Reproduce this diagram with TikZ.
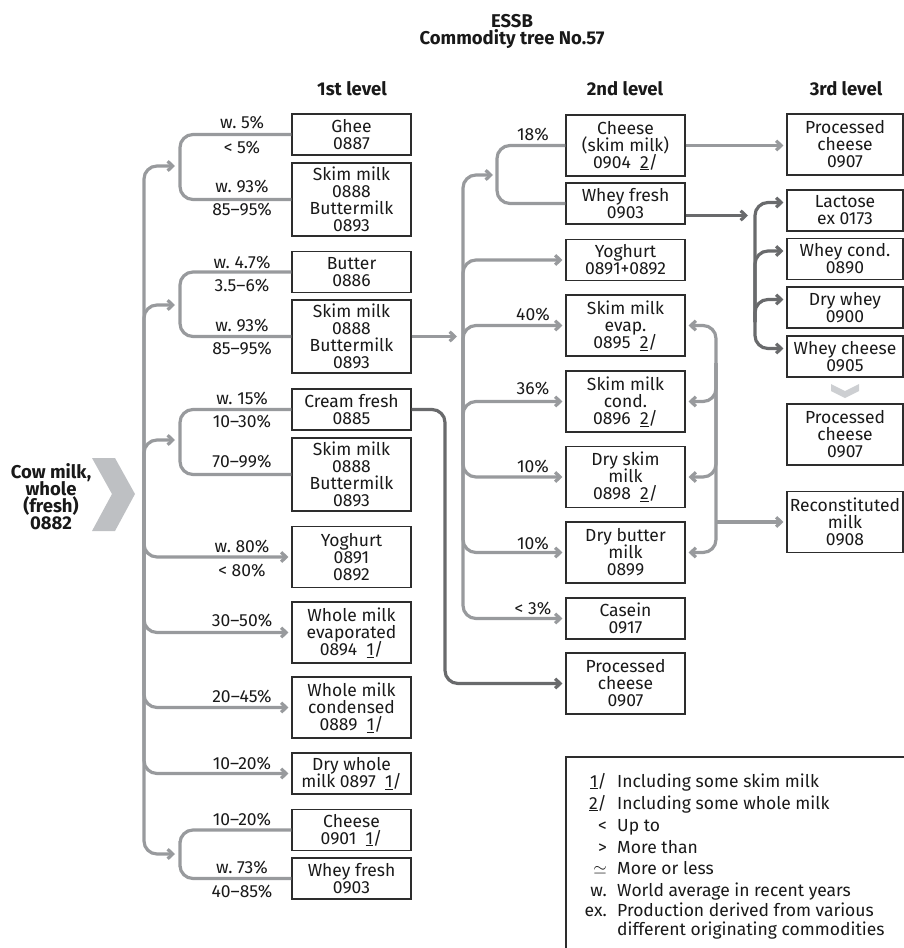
\documentclass[tikz,border=0pt]{standalone}
\usepackage{fontspec}
\setmainfont{Fira Sans}
\usetikzlibrary{arrows.meta}

\definecolor{lightline}{RGB}{152,154,157}
\definecolor{darkline}{RGB}{105,106,108}
\definecolor{boxline}{RGB}{45,45,45}
\definecolor{ink}{RGB}{25,25,25}
\definecolor{chev}{RGB}{190,192,195}
\definecolor{chevlight}{RGB}{205,207,210}

\newcommand\bodyfont{\fontsize{17.5}{17}\selectfont\lineskiplimit=-20pt}
\newcommand\boldfont{\bfseries\fontsize{18.5}{17}\selectfont\lineskiplimit=-20pt}

\tikzset{
  every node/.style={font=\bodyfont, text=ink},
  box/.style={draw=boxline, line width=1.1pt, align=center, inner sep=0pt, minimum width=119pt},
  boxr/.style={box, minimum width=116pt},
  ln2/.style={minimum height=41pt},
  ln3/.style={minimum height=61pt},
  ln4/.style={minimum height=73pt},
  pct/.style={inner sep=0pt, text height=12pt, text depth=0pt},
  head/.style={pct, font=\boldfont},
  flow/.style={draw=lightline, line width=3.2pt, rounded corners=13pt},
  dark/.style={flow, draw=darkline},
  arr/.style={-{Straight Barb[length=5pt,width=9.5pt]}, shorten >=3pt},
}

\begin{document}
\begin{tikzpicture}[x=1pt, y=-1pt]
    \useasboundingbox (0,0) rectangle (904,948);
    % title and level heads
    \node[head] (essb) at (512,21) {ESSB};
    \node[head] (tree) at (512,38) {Commodity tree No.57};
    \node[head] (lev1) at (352,89) {1st level};
    \node[head] (lev2) at (625,89) {2nd level};
    \node[head] (lev3) at (846,89) {3rd level};

    % source
    \node[align=center, inner sep=0pt, font=\boldfont] (cow) at (51,497) {Cow milk,\\whole\\(fresh)\\0882};
    \fill[chev] (92,458) -- (115,458) -- (135,494) -- (115,531) -- (92,531) -- (112,494) -- cycle;

    % 1st level
    \node[box,ln2] (ghee) at (351.5,134.5) {Ghee\\0887};
    \node[box,ln4] (skimA) at (351.5,199.5) {Skim milk\\0888\\Buttermilk\\0893};
    \node[box,ln2] (butter) at (351.5,272) {Butter\\0886};
    \node[box,ln4] (skimB) at (351.5,336.5) {Skim milk\\0888\\Buttermilk\\0893};
    \node[box,ln2] (cream) at (351.5,409.5) {Cream fresh\\0885};
    \node[box,ln4] (skimC) at (351.5,474.5) {Skim milk\\0888\\Buttermilk\\0893};
    \node[box,ln3] (yogA) at (351.5,557) {Yoghurt\\0891\\0892};
    \node[box,ln3] (wevap) at (351.5,632.5) {Whole milk\\evaporated\\0894~~\underline{1}/};
    \node[box,ln3] (wcond) at (351.5,707.5) {Whole milk\\condensed\\0889~~\underline{1}/};
    \node[box,ln2] (dryw) at (351.5,773.5) {Dry whole\\milk 0897~~\underline{1}/};
    \node[box,ln2] (cheeseA) at (351.5,830) {Cheese\\0901~~\underline{1}/};
    \node[box,ln2] (wheyA) at (351.5,878.5) {Whey fresh\\0903};

    % 2nd level
    \node[box,ln3] (cheeseB) at (625.5,145.5) {Cheese\\(skim milk)\\0904~~\underline{2}/};
    \node[box,ln2] (wheyB) at (625.5,203.5) {Whey fresh\\0903};
    \node[box,ln2] (yogB) at (625.5,260) {Yoghurt\\0891+0892};
    \node[box,ln3] (sevap) at (625.5,325.5) {Skim milk\\evap.\\0895~~\underline{2}/};
    \node[box,ln3] (scond) at (625.5,401.5) {Skim milk\\cond.\\0896~~\underline{2}/};
    \node[box,ln3] (dskim) at (625.5,477) {Dry skim\\milk\\0898~~\underline{2}/};
    \node[box,ln3] (dbutter) at (625.5,552.5) {Dry butter\\milk\\0899};
    \node[box,ln2] (casein) at (625.5,618.5) {Casein\\0917};
    \node[box,ln3] (procB) at (625.5,683.5) {Processed\\cheese\\0907};

    % 3rd level
    \node[boxr,ln3] (procC) at (845,144.5) {Processed\\cheese\\0907};
    \node[boxr,ln2] (lactose) at (845,210.5) {Lactose\\ex 0173};
    \node[boxr,ln2] (wcondC) at (845,259) {Whey cond.\\0890};
    \node[boxr,ln2] (dwhey) at (845,307.5) {Dry whey\\0900};
    \node[boxr,ln2] (wcheese) at (845,356.5) {Whey cheese\\0905};
    \node[boxr,ln3] (procD) at (845,434.5) {Processed\\cheese\\0907};
    \node[boxr,ln3] (recon) at (845,522) {Reconstituted\\milk\\0908};
    \fill[chevlight] (831,384) -- (845,391) -- (859,384) -- (859,391) -- (845,398) -- (831,391) -- cycle;

    % branch points
    \coordinate (ta) at (144,500);
    \coordinate (bA) at (180,166);
    \coordinate (bB) at (180,305);
    \coordinate (bC) at (180,440);
    \coordinate (bD) at (180,854);
    \coordinate (tb) at (463,440);
    \coordinate (bE) at (497,175);
    \coordinate (cj) at (445,550);
    \coordinate (wc) at (755,322);
    \coordinate (rc) at (716,363);
    \coordinate (wo) at ([yshift=-12pt]wheyB.east);

    % 1st level flows
    \foreach \t in {bA,bB,bC,bD}
        \draw[flow,arr,shorten >=5pt] (ta) |- (\t);
    \foreach \t in {yogA,wevap,wcond,dryw}
        \draw[flow,arr] (ta) |- (\t.west);
    \draw[flow] (ghee.west) -| (bA) |- (skimA.west);
    \draw[flow] (butter.west) -| (bB) |- (skimB.west);
    \draw[flow] (cream.west) -| (bC) |- (skimC.west);
    \draw[flow] (cheeseA.west) -| (bD) |- (wheyA.west);

    % 2nd level flows
    \draw[flow,arr,shorten >=6pt] (skimB.east) -- (tb |- skimB.east);
    \draw[flow,arr,shorten >=4pt] (tb) |- (bE);
    \foreach \t in {yogB,sevap,scond,dskim,dbutter,casein}
        \draw[flow,arr] (tb) |- (\t.west);
    \draw[flow] (cheeseB.west) -| (bE) |- (wheyB.west);
    \draw[dark,arr] (cream.east) -| (cj) |- (procB.west);

    % 3rd level flows
    \draw[flow,arr] (cheeseB.east) -- (cheeseB.east -| procC.west);
    \draw[dark,arr,shorten >=7pt] (wo) -- (wc |- wo);
    \foreach \t in {lactose,wcondC,dwhey,wcheese}
        \draw[dark,arr] (wc) |- ([yshift=8pt]\t.west);
    \foreach \t in {sevap,scond,dskim,dbutter}
        \draw[flow,arr] (rc) |- (\t.east);
    \draw[flow,arr] (rc |- recon.west) -- (recon.west);

    % shares, 1st level
    \foreach \t/\y [count=\i] in {w.\ 5\%/122, <\ 5\%/147, w.\ 93\%/186, 85--95\%/209,
        w.\ 4.7\%/262, 3.5--6\%/285, w.\ 93\%/325, 85--95\%/348, w.\ 15\%/398,
        10--30\%/421, 70--99\%/461, w.\ 80\%/546, <\ 80\%/570, 30--50\%/620,
        20--45\%/696, 10--20\%/763, 10--20\%/819, w.\ 73\%/867, 40--85\%/891}
        \node[pct] (pa\i) at (242,\y) {\t};
    % shares, 2nd level
    \foreach \t/\y [count=\i] in {18\%/134, 40\%/314, 36\%/388, 10\%/466, 10\%/543, <\ 3\%/608}
        \node[pct] (pb\i) at (533,\y) {\t};

    % legend
    \draw[draw=boxline, line width=1.1pt] (904,757) -- (566,757) -- (566,948);
    \foreach \s/\t/\y [count=\i] in {{\underline{1}/}/Including some skim milk/781,
        {\underline{2}/}/Including some whole milk/803, {<}/Up to/825, {>}/More than/847,
        {$\simeq$}/More or less/868, {w.}/World average in recent years/890,
        {ex.}/Production derived from various/910}
    {
        \node[pct, anchor=east] (sym\i) at (607,\y) {\s};
        \node[pct, anchor=west] (txt\i) at (617,\y) {\t};
    }
    \node[pct, anchor=west] (txt8) at (617,929) {different originating commodities};
\end{tikzpicture}
\end{document}
